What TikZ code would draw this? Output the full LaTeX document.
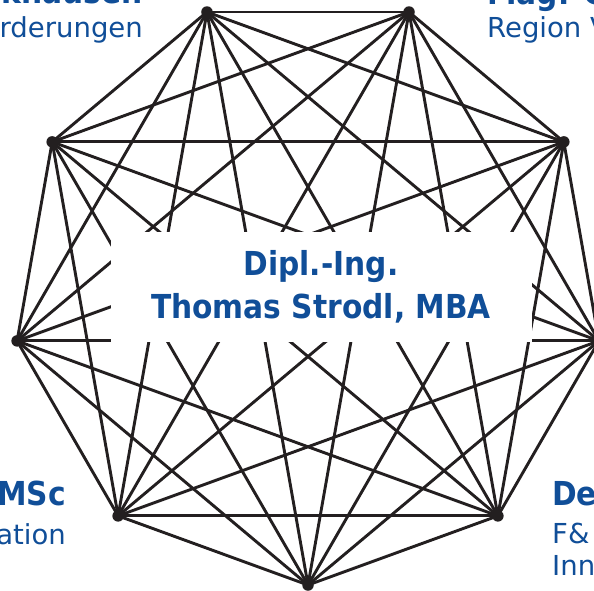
\documentclass[tikz,border=0pt]{standalone}
\usepackage{fontspec}
\setmainfont{DejaVu Sans}
\newfontfamily\narrowfont{DejaVu Sans}[FakeStretch=0.9]
\usepackage{tikz}
\usetikzlibrary{positioning}
\definecolor{nameblue}{RGB}{16,78,152}
\definecolor{edgeblack}{RGB}{35,31,32}
\tikzset {
    style vertex/.style={
        circle, % Set the shape as a circle
        fill=edgeblack,
        inner sep=0pt,
        minimum size=11.5pt,
    },
    style edge/.style={
        draw=edgeblack,
        line width=2.9pt,
    },
    style name/.style={
        fill=white,
        rectangle, % Set the shape as a rectangle
        inner sep=0pt,
        minimum width=421pt,
        minimum height=110pt,
        align=center,
        text=nameblue,
        font=\narrowfont\bfseries\fontsize{33}{43}\selectfont,
    },
    style title/.style={
        inner sep=0pt,
        text=nameblue,
        font=\narrowfont\bfseries\fontsize{33}{40}\selectfont,
    },
    style sub/.style={
        inner sep=0pt,
        text=nameblue,
        font=\fontsize{27.5}{32}\selectfont,
    },
}
\begin{document}
\begin{tikzpicture}[x=1pt, y=1pt]
        \useasboundingbox (0,0) rectangle (594,590);
        \clip (0,0) rectangle (594,590);

        % corners of the nonagon
        \foreach \i in {0,...,8} {
            \pgfmathsetmacro{\ang}{-90+40*\i}
            \coordinate (p\i) at ([shift={(308pt,300.4pt)}]\ang:295.4pt);
        }
        % every corner joined to every other one
        \foreach \i in {0,...,7} {
            \pgfmathtruncatemacro{\k}{\i+1}
            \foreach \j in {\k,...,8} {
                \draw[style edge] (p\i) -- (p\j);
            }
        }
        \foreach \i in {0,...,8} {
            \node[style vertex] (v\i) at (p\i) {};
        }

        \node[style name] at (321,303) (strodl) {Dipl.-Ing.\\Thomas Strodl, MBA};

        \node[style title, anchor=base east] at (143,586) (knausen) {knausen};
        \node[style sub, anchor=base east] at (143,552) (rderungen) {rderungen};
        \node[style title, anchor=base west] at (487,585) (mag) {Mag. C};
        \node[style sub, anchor=base west] at (487,552) (region) {Region V};
        \node[style title, anchor=base east] at (66,85) (msc) {MSc};
        \node[style sub, anchor=base east] at (66,46) (ation) {ation};
        \node[style title, anchor=base west] at (552,85) (de) {De};
        \node[style sub, anchor=base west] at (552,47) (fu) {F\&};
        \node[style sub, anchor=base west] at (552,15) (inn) {Inn};
    \end{tikzpicture}
\end{document}
